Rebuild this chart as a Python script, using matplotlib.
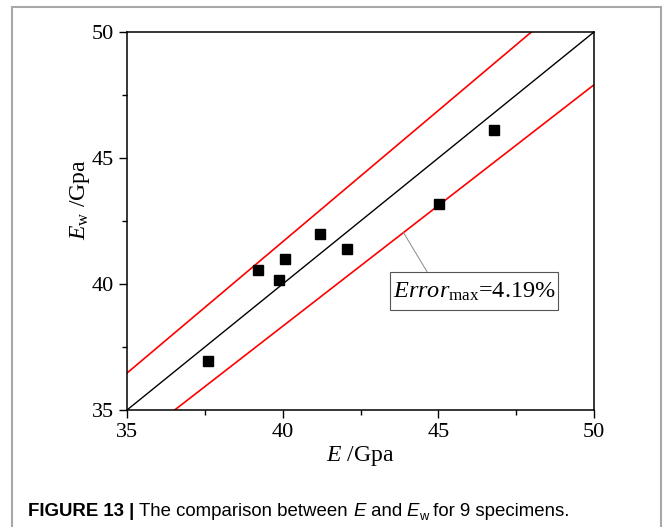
import numpy as np
import matplotlib
matplotlib.use("Agg")
import matplotlib.pyplot as plt
from matplotlib.patches import Rectangle
from matplotlib.ticker import MultipleLocator

# measured moduli of the specimens (GPa)
E = [37.59, 39.20, 39.88, 40.09, 41.20, 42.05, 45.01, 46.79]
E_w = [36.96, 40.57, 40.17, 40.99, 42.00, 41.38, 43.17, 46.12]

err_max = 4.19  # percent
x_ticks = [35, 40, 45, 50]

plt.rcParams['font.family'] = 'Liberation Serif'
plt.rcParams['mathtext.fontset'] = 'custom'
plt.rcParams['mathtext.rm'] = 'Liberation Serif'
plt.rcParams['mathtext.it'] = 'Liberation Serif:italic'

fig = plt.figure(figsize=(6.64, 5.27), dpi=100)
ax = fig.add_axes([0.1913, 0.222, 0.7033, 0.7173])

line_x = np.array([35, 50])
ax.plot(line_x, line_x, color='black', lw=1.0)
ax.plot(line_x, line_x * (1 + err_max / 100), color='#ff0000', lw=1.2)
ax.plot(line_x, line_x * (1 - err_max / 100), color='#ff0000', lw=1.2)
ax.plot(E, E_w, 's', color='black', ms=7, zorder=5)

ax.set_xlim(35, 50)
ax.set_ylim(35, 50)
ax.set_xticks(x_ticks)
ax.set_yticks(x_ticks)
ax.xaxis.set_minor_locator(MultipleLocator(2.5))
ax.yaxis.set_minor_locator(MultipleLocator(2.5))
ax.tick_params(which='major', direction='out', length=6, width=1, pad=3.5, labelsize=16)
ax.tick_params(which='minor', direction='out', length=3.5, width=1)
for s in ax.spines.values():
    s.set_linewidth(1.1)

ax.set_xlabel(r'$E$ /Gpa', fontsize=17, labelpad=1)
ax.set_ylabel(r'$E_{\mathrm{w}}$ /Gpa', fontsize=17)
ax.yaxis.set_label_coords(-0.076, 0.556)

# label box for the maximum error, with a leader to the lower bound
box_x, box_y, box_w, box_h = 43.45, 38.97, 5.40, 1.51
ax.add_patch(Rectangle((box_x, box_y), box_w, box_h, fc='white',
                       ec='#555555', lw=0.8, zorder=6))
ax.text(box_x + box_w / 2, box_y + box_h / 2 - 0.05,
        r'$\mathit{Error}_{\mathrm{max}}$=%.2f%%' % err_max,
        ha='center', va='center', fontsize=17.5, zorder=7)
xp = 43.88
ax.annotate('', xy=(xp, xp * (1 - err_max / 100)), xytext=(44.64, box_y + box_h),
            arrowprops=dict(arrowstyle='-', color='#888888', lw=0.7,
                            shrinkA=0, shrinkB=0))

# outer frame
fig.patches.append(Rectangle((12 / 664, -0.1), (660.7 - 12) / 664, 1.1 - 7 / 527,
                             transform=fig.transFigure, fill=False,
                             ec='#a8a8a8', lw=1.5))

# caption, built piece by piece
base = 1 - 516 / 527
pieces = [('FIGURE 13 | ', 'bold', 'normal', 0),
          ('The comparison between ', 'normal', 'normal', 0),
          ('E', 'normal', 'italic', 0),
          (' and ', 'normal', 'normal', 0),
          ('E', 'normal', 'italic', 0),
          ('w', 'normal', 'normal', -1),
          (' for 9 specimens.', 'normal', 'normal', 0)]
prev = None
for txt, wt, st, sub in pieces:
    size = 9.3 if sub else 13.4
    y = base - 0.007 if sub else base
    kw = dict(fontsize=size, fontweight=wt, fontstyle=st,
              family='Liberation Sans', ha='left', va='baseline')
    if prev is None:
        prev = fig.text(28 / 664, y, txt, **kw)
    else:
        prev = ax.annotate(txt, xy=(1, y), xycoords=(prev, 'figure fraction'),
                           annotation_clip=False, **kw)

fig.savefig('out.png', dpi=100)
